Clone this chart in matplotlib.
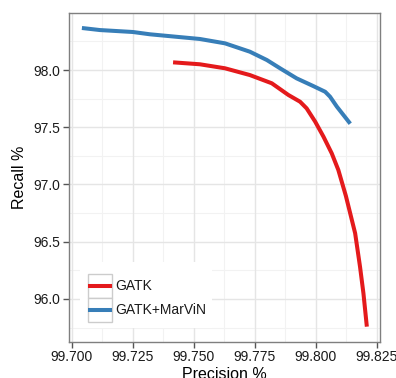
import matplotlib
matplotlib.use("Agg")
import matplotlib.pyplot as plt
from matplotlib.patches import Rectangle
from matplotlib.lines import Line2D

plt.rcParams['font.family'] = ['Liberation Sans', 'DejaVu Sans']

series_names = ["GATK", "GATK+MarViN"]
colors = ["#E41A1C", "#377EB8"]

gatk_precision = [99.7415, 99.7525, 99.7628, 99.7730, 99.7820, 99.7888, 99.7936, 99.7963,
                  99.7998, 99.8032, 99.8066, 99.8093, 99.8124, 99.8162, 99.8182,
                  99.8196, 99.8210]
gatk_recall = [98.067, 98.050, 98.015, 97.956, 97.884, 97.782, 97.723, 97.665,
               97.549, 97.418, 97.272, 97.127, 96.900, 96.574, 96.282,
               96.050, 95.758]

marvin_precision = [99.7041, 99.7115, 99.7250, 99.7320, 99.7525, 99.7628, 99.7730, 99.7800,
                    99.7854, 99.7922, 99.7990, 99.8039, 99.8059, 99.8087, 99.8142]
marvin_recall = [98.367, 98.349, 98.332, 98.312, 98.271, 98.233, 98.160, 98.087,
                 98.015, 97.927, 97.860, 97.810, 97.767, 97.680, 97.531]

x_ticks = [99.700, 99.725, 99.750, 99.775, 99.800, 99.825]
y_ticks = [96.0, 96.5, 97.0, 97.5, 98.0]

W, H = 396, 378
fig = plt.figure(figsize=(W / 100, H / 100), dpi=100)
ax = fig.add_axes([69 / W, 1 - 342 / H, 311 / W, 329 / H])

ax.set_xlim(99.6988, 99.8264)
ax.set_ylim(95.624, 98.498)

# grid
for x in x_ticks:
    ax.axvline(x, color="#e5e5e5", lw=1.0, zorder=1)
for x in [99.7125, 99.7375, 99.7625, 99.7875, 99.8125]:
    ax.axvline(x, color="#f2f2f2", lw=0.8, zorder=0.9)
for y in y_ticks:
    ax.axhline(y, color="#e5e5e5", lw=1.0, zorder=1)
for y in [95.75, 96.25, 96.75, 97.25, 97.75, 98.25]:
    ax.axhline(y, color="#f2f2f2", lw=0.8, zorder=0.9)

ax.plot(gatk_precision, gatk_recall, color=colors[0], lw=2.9, solid_capstyle="butt",
        solid_joinstyle="round", zorder=3)
ax.plot(marvin_precision, marvin_recall, color=colors[1], lw=2.9, solid_capstyle="butt",
        solid_joinstyle="round", zorder=3)

ax.set_xticks(x_ticks)
ax.set_xticklabels(["%.3f" % v for v in x_ticks])
ax.set_yticks(y_ticks)
ax.set_yticklabels(["%.1f" % v for v in y_ticks])
ax.tick_params(axis="both", direction="out", length=4, width=1, color="#555555",
               labelsize=10, labelcolor="#1a1a1a", pad=2)
for s in ax.spines.values():
    s.set_color("#7f7f7f")
    s.set_linewidth(1.0)

ax.set_xlabel("Precision %", fontsize=11.5, labelpad=2)
ax.set_ylabel("Recall %", fontsize=11.5, labelpad=5)

# legend (drawn manually in pixel coords)
def px(x, y):
    return x / W, 1 - y / H

bg = Rectangle(px(80, 328), 132 / W, 66 / H, transform=fig.transFigure,
               facecolor="white", edgecolor="none", zorder=5)
fig.patches.append(bg)
key_tops = [274, 298]
for i, (name, c) in enumerate(zip(series_names, colors)):
    top = key_tops[i]
    r = Rectangle(px(88, top + 24), 24 / W, 24 / H, transform=fig.transFigure,
                  facecolor="white", edgecolor="#cccccc", lw=1.0, zorder=6)
    fig.patches.append(r)
    yc = top + 12
    fig.lines.append(Line2D([90 / W, 110 / W], [1 - yc / H, 1 - yc / H],
                            transform=fig.transFigure, color=c, lw=2.9, zorder=7))
    fig.text(115 / W, 1 - yc / H, name, fontsize=10, va="center", ha="left",
             color="#1a1a1a", zorder=8)

fig.savefig("out.png", dpi=100)
